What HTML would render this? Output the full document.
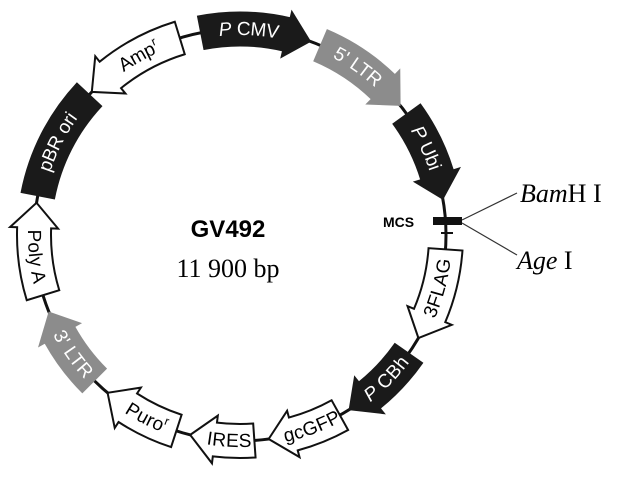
<!DOCTYPE html>
<html><head><meta charset="utf-8"><style>
html,body{margin:0;padding:0;background:#fff;width:638px;height:486px;overflow:hidden}
svg{display:block}
.lb{font-family:"Liberation Sans",sans-serif;font-size:19px;dominant-baseline:central}
</style></head><body>
<svg id="s" width="638" height="486" viewBox="0 0 638 486" xmlns="http://www.w3.org/2000/svg">
<circle cx="240" cy="235" r="206" fill="none" stroke="#111" stroke-width="3"/>
<g id="shapes"></g>
<defs id="defs">
<path id="t0"/><path id="t1"/><path id="t2"/><path id="t3"/><path id="t4"/><path id="t5"/><path id="t6"/><path id="t7"/><path id="t8"/><path id="t9"/><path id="t10"/><path id="t11"/>
</defs>
<text class="lb" fill="#fff"><textPath href="#t0" startOffset="50%" text-anchor="middle"><tspan font-style="italic">P</tspan> CMV</textPath></text>
<text class="lb" fill="#fff"><textPath href="#t1" startOffset="50%" text-anchor="middle">5' LTR</textPath></text>
<text class="lb" fill="#fff"><textPath href="#t2" startOffset="50%" text-anchor="middle"><tspan font-style="italic">P</tspan> Ubi</textPath></text>
<text class="lb" fill="#000"><textPath href="#t3" startOffset="50%" text-anchor="middle">3FLAG</textPath></text>
<text class="lb" fill="#fff"><textPath href="#t4" startOffset="50%" text-anchor="middle"><tspan font-style="italic">P</tspan> CBh</textPath></text>
<text class="lb" fill="#000"><textPath href="#t5" startOffset="50%" text-anchor="middle">gcGFP</textPath></text>
<text class="lb" fill="#000"><textPath href="#t6" startOffset="50%" text-anchor="middle">IRES</textPath></text>
<text class="lb" fill="#000"><textPath href="#t7" startOffset="50%" text-anchor="middle">Puro<tspan font-size="12" dy="-6">r</tspan></textPath></text>
<text class="lb" fill="#fff"><textPath href="#t8" startOffset="50%" text-anchor="middle">3' LTR</textPath></text>
<text class="lb" fill="#000"><textPath href="#t9" startOffset="50%" text-anchor="middle">Poly A</textPath></text>
<text class="lb" fill="#fff"><textPath href="#t10" startOffset="50%" text-anchor="middle">pBR ori</textPath></text>
<text class="lb" fill="#000"><textPath href="#t11" startOffset="50%" text-anchor="middle">Amp<tspan font-size="12" dy="-6">r</tspan></textPath></text>

<rect x="433" y="217" width="29" height="8" fill="#111"/>
<line x1="441" y1="233" x2="453" y2="233" stroke="#111" stroke-width="2"/>
<line x1="462" y1="220" x2="517" y2="193" stroke="#333" stroke-width="1.2"/>
<line x1="462" y1="223" x2="517" y2="255" stroke="#333" stroke-width="1.2"/>
<text x="383" y="227" font-family="Liberation Sans,sans-serif" font-weight="bold" font-size="14">MCS</text>
<text x="520" y="202" font-family="Liberation Serif,serif" font-size="26"><tspan font-style="italic">Bam</tspan>H I</text>
<text x="517" y="269" font-family="Liberation Serif,serif" font-size="26"><tspan font-style="italic">Age</tspan> I</text>
<text x="228" y="237" text-anchor="middle" font-family="Liberation Sans,sans-serif" font-weight="bold" font-size="24">GV492</text>
<text x="228" y="277" text-anchor="middle" font-family="Liberation Serif,serif" font-size="26">11 900 bp</text>
</svg>
<script>
var cx=240,cy=235,R=206,W=17,HW=24,H=7;
function P(r,t){t=t*Math.PI/180;return [(cx+r*Math.sin(t)).toFixed(2),(cy-r*Math.cos(t)).toFixed(2)];}
function arc(r,a,b){var s=P(r,a),e=P(r,b);var sw=b>a?1:0;var lg=Math.abs(b-a)>180?1:0;return "A"+r+","+r+" 0 "+lg+" "+sw+" "+e.join(",");}
var feats=[
[349,20,1,"#1a1a1a"],[23,51,1,"#8c8c8c"],[54,80,1,"#1a1a1a"],
[94,120,1,"#fff"],[125,148,1,"#1a1a1a"],[151,172,1,"#fff"],[176,194,1,"#fff"],
[198,220,1,"#fff"],[225,248,1,"#8c8c8c"],[253,279,1,"#fff"],[281,313,0,"#1a1a1a"],[314,343,-1,"#fff"]];
var textDir=[1,1,1,-1,-1,-1,-1,-1,-1,-1,1,1];
var g=document.getElementById("shapes"),ns="http://www.w3.org/2000/svg";
feats.forEach(function(f,i){
 var a=f[0],b=f[1];if(b<a)b+=360;var d;
 if(f[2]==1){var m=b-H;
  d="M"+P(R+W,a).join(",")+arc(R+W,a,m)+"L"+P(R+HW,m).join(",")+"L"+P(R,b).join(",")+"L"+P(R-HW,m).join(",")+"L"+P(R-W,m).join(",")+arc(R-W,m,a)+"Z";
 }else if(f[2]==-1){var m=a+H;
  d="M"+P(R,a).join(",")+"L"+P(R+HW,m).join(",")+"L"+P(R+W,m).join(",")+arc(R+W,m,b)+"L"+P(R-W,b).join(",")+arc(R-W,b,m)+"L"+P(R-HW,m).join(",")+"Z";
 }else{
  d="M"+P(R+W,a).join(",")+arc(R+W,a,b)+"L"+P(R-W,b).join(",")+arc(R-W,b,a)+"Z";
 }
 var p=document.createElementNS(ns,"path");p.setAttribute("d",d);p.setAttribute("fill",f[3]);
 p.setAttribute("stroke",f[3]=="#fff"?"#111":f[3]);p.setAttribute("stroke-width",f[3]=="#fff"?2:1);
 g.appendChild(p);
 var mid=(a+b)/2+(f[2]==1?-2:f[2]==-1?2:0),ta=mid-40,tb=mid+40;
 var td=textDir[i]==1?"M"+P(R,ta).join(",")+arc(R,ta,tb):"M"+P(R,tb).join(",")+arc(R,tb,ta);
 document.getElementById("t"+i).setAttribute("d",td);
});
</script>
</body></html>
